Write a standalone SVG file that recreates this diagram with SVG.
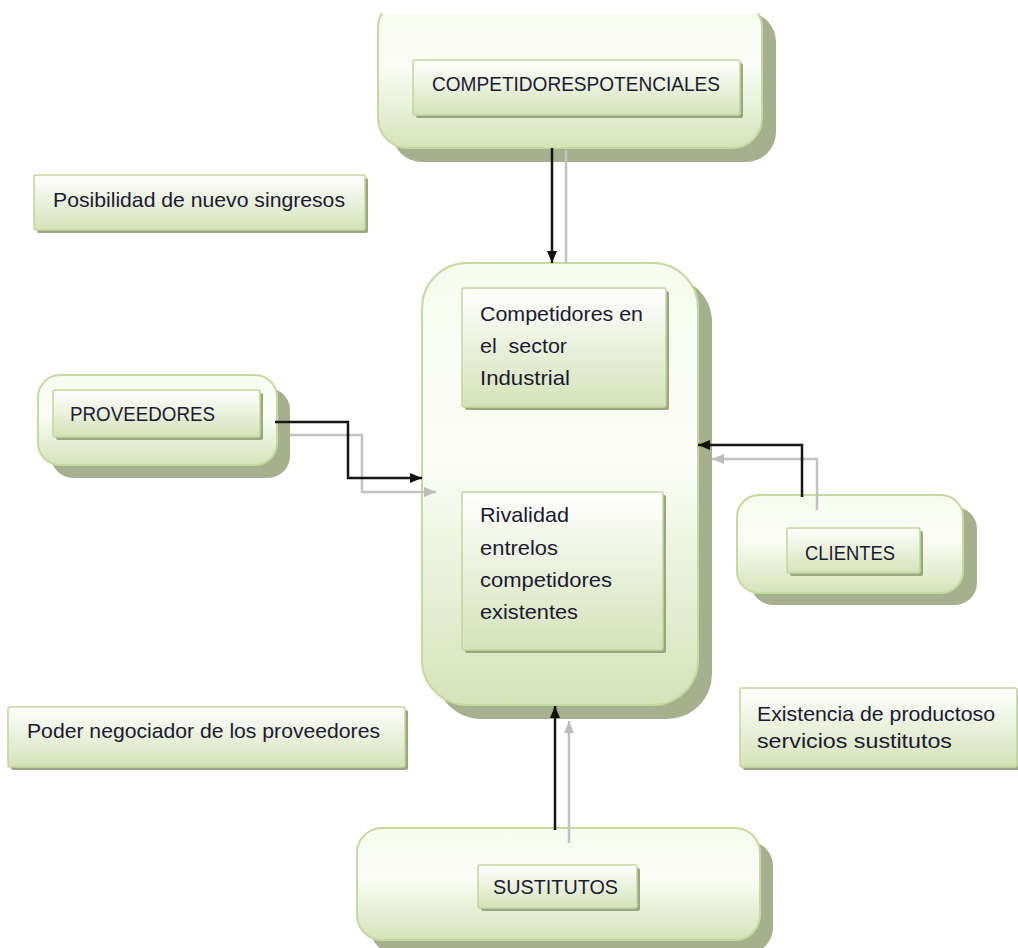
<svg xmlns="http://www.w3.org/2000/svg" width="1018" height="948" viewBox="0 0 1018 948">
  <defs>
    <linearGradient id="gOuter" x1="0" y1="0" x2="0" y2="1">
      <stop offset="0" stop-color="#f7fbef"/>
      <stop offset="0.45" stop-color="#fbfdf6"/>
      <stop offset="1" stop-color="#d6e3b9"/>
    </linearGradient>
    <linearGradient id="gInner" x1="0" y1="0" x2="0" y2="1">
      <stop offset="0" stop-color="#ffffff"/>
      <stop offset="1" stop-color="#d5e2b8"/>
    </linearGradient>
    <clipPath id="clipTop">
      <rect x="0" y="13" width="1018" height="200"/>
    </clipPath>
    <marker id="arrBlack" viewBox="0 0 12 10" refX="12" refY="5" markerWidth="12" markerHeight="10" markerUnits="userSpaceOnUse" orient="auto">
      <path d="M0,0 L12,5 L0,10 z" fill="#111"/>
    </marker>
    <marker id="arrGray" viewBox="0 0 12 10" refX="12" refY="5" markerWidth="12" markerHeight="10" markerUnits="userSpaceOnUse" orient="auto">
      <path d="M0,0 L12,5 L0,10 z" fill="#bdbdbd"/>
    </marker>
  </defs>
  <style>
    .shadow { fill: #a6b08e; }
    .ishadow { fill: #9aa581; }
    .outer { fill: url(#gOuter); stroke: #c6d99e; stroke-width: 2; }
    .inner { fill: url(#gInner); stroke: #c3d69b; stroke-width: 1.5; }
    .t { font-family: "Liberation Sans", Arial, sans-serif; font-size: 21px; fill: #1a1a33; }
    .cb { fill: none; stroke: #151515; stroke-width: 2.5; }
    .cg { fill: none; stroke: #c2c2c2; stroke-width: 2.5; }
  </style>
  <rect width="1018" height="948" fill="#ffffff"/>

  <!-- potential entrants -->
  <g id="competidores-potenciales">
    <g clip-path="url(#clipTop)">
      <rect class="shadow" x="392" y="12" width="384" height="150" rx="30"/>
      <rect class="outer" x="378" y="-2" width="384" height="150" rx="30"/>
    </g>
    <rect class="ishadow" x="416" y="63" width="327" height="55" rx="2"/>
    <rect class="inner" x="413" y="60" width="327" height="55" rx="2"/>
    <text class="t" x="432" y="91" textLength="288" lengthAdjust="spacingAndGlyphs">COMPETIDORESPOTENCIALES</text>
  </g>

  <g id="nota-ingresos">
    <rect class="ishadow" x="37" y="178" width="331" height="55" rx="2"/>
    <rect class="inner" x="34" y="175" width="331" height="55" rx="2"/>
    <text class="t" x="53" y="207" textLength="292" lengthAdjust="spacingAndGlyphs">Posibilidad de nuevo singresos</text>
  </g>

  <!-- industry rivalry -->
  <g id="sector-industrial">
    <rect class="shadow" x="436" y="277" width="276" height="442" rx="45"/>
    <rect class="outer" x="422" y="263" width="276" height="442" rx="45"/>
    <rect class="ishadow" x="465" y="291" width="204" height="119" rx="2"/>
    <rect class="inner" x="462" y="288" width="204" height="119" rx="2"/>
    <text class="t" x="480" y="321" textLength="163" lengthAdjust="spacingAndGlyphs">Competidores en</text>
    <text class="t" x="480" y="353" textLength="87" lengthAdjust="spacingAndGlyphs" xml:space="preserve">el  sector</text>
    <text class="t" x="480" y="385" textLength="90" lengthAdjust="spacingAndGlyphs">Industrial</text>
    <rect class="ishadow" x="465" y="495" width="201" height="158" rx="2"/>
    <rect class="inner" x="462" y="492" width="201" height="158" rx="2"/>
    <text class="t" x="480" y="522" textLength="89" lengthAdjust="spacingAndGlyphs">Rivalidad</text>
    <text class="t" x="480" y="555" textLength="78" lengthAdjust="spacingAndGlyphs">entrelos</text>
    <text class="t" x="480" y="587" textLength="132" lengthAdjust="spacingAndGlyphs">competidores</text>
    <text class="t" x="480" y="619" textLength="98" lengthAdjust="spacingAndGlyphs">existentes</text>
  </g>

  <!-- suppliers -->
  <g id="proveedores">
    <rect class="shadow" x="51" y="388" width="239" height="90" rx="22"/>
    <rect class="outer" x="38" y="375" width="239" height="90" rx="22"/>
    <rect class="ishadow" x="56" y="393" width="207" height="47" rx="2"/>
    <rect class="inner" x="53" y="390" width="207" height="47" rx="2"/>
    <text class="t" x="70" y="421" textLength="145" lengthAdjust="spacingAndGlyphs">PROVEEDORES</text>
  </g>

  <!-- buyers -->
  <g id="clientes">
    <rect class="shadow" x="751" y="507" width="226" height="98" rx="22"/>
    <rect class="outer" x="737" y="495" width="226" height="98" rx="22"/>
    <rect class="ishadow" x="790" y="531" width="133" height="45" rx="2"/>
    <rect class="inner" x="787" y="528" width="133" height="45" rx="2"/>
    <text class="t" x="805" y="560" textLength="90" lengthAdjust="spacingAndGlyphs">CLIENTES</text>
  </g>

  <g id="nota-proveedores">
    <rect class="ishadow" x="11" y="710" width="397" height="60" rx="2"/>
    <rect class="inner" x="8" y="707" width="397" height="60" rx="2"/>
    <text class="t" x="27" y="738" textLength="353" lengthAdjust="spacingAndGlyphs">Poder negociador de los proveedores</text>
  </g>

  <g id="nota-sustitutos">
    <rect class="ishadow" x="743" y="691" width="277" height="79" rx="2"/>
    <rect class="inner" x="740" y="688" width="277" height="79" rx="2"/>
    <text class="t" x="757" y="721" textLength="238" lengthAdjust="spacingAndGlyphs">Existencia de productoso</text>
    <text class="t" x="757" y="748" textLength="195" lengthAdjust="spacingAndGlyphs">servicios sustitutos</text>
  </g>

  <!-- substitutes -->
  <g id="sustitutos">
    <rect class="shadow" x="370" y="841" width="403" height="112" rx="25"/>
    <rect class="outer" x="357" y="828" width="403" height="112" rx="25"/>
    <rect class="ishadow" x="481" y="868" width="159" height="43" rx="2"/>
    <rect class="inner" x="478" y="865" width="159" height="43" rx="2"/>
    <text class="t" x="493" y="894" textLength="125" lengthAdjust="spacingAndGlyphs">SUSTITUTOS</text>
  </g>

  <!-- force connectors: dark line with a light echo line -->
  <g id="connectors">
    <path class="cg" d="M566,150 V263"/>
    <path class="cb" d="M552,148 V263" marker-end="url(#arrBlack)"/>
    <path class="cg" d="M290,435 H362 V492 H436" marker-end="url(#arrGray)"/>
    <path class="cb" d="M275,422 H348 V478 H422" marker-end="url(#arrBlack)"/>
    <path class="cg" d="M817,510 V459 H712" marker-end="url(#arrGray)"/>
    <path class="cb" d="M802,497 V445 H698" marker-end="url(#arrBlack)"/>
    <path class="cg" d="M569,843 V721" marker-end="url(#arrGray)"/>
    <path class="cb" d="M555,830 V706" marker-end="url(#arrBlack)"/>
  </g>
</svg>
